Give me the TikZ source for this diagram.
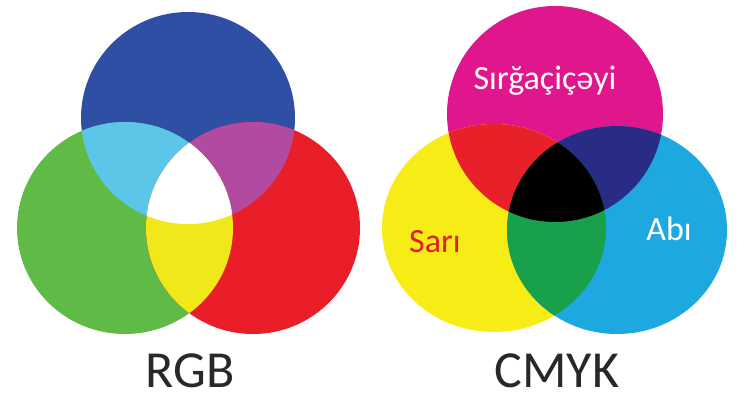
\documentclass[tikz,border=0pt]{standalone}
\usepackage{fontspec}
\setmainfont{Carlito}
\usetikzlibrary{positioning}
\definecolor{rgbblue}{RGB}{47,79,164}
\definecolor{rgbgreen}{RGB}{96,186,70}
\definecolor{rgbred}{RGB}{234,30,40}
\definecolor{rgbcyan}{RGB}{92,198,232}
\definecolor{rgbmagenta}{RGB}{178,74,160}
\definecolor{rgbyellow}{RGB}{240,232,24}
\definecolor{cmykmagenta}{RGB}{224,22,140}
\definecolor{cmykyellow}{RGB}{247,236,22}
\definecolor{cmykcyan}{RGB}{30,168,224}
\definecolor{cmykred}{RGB}{232,32,42}
\definecolor{cmykblue}{RGB}{40,44,132}
\definecolor{cmykgreen}{RGB}{24,160,74}
\definecolor{labelgray}{RGB}{40,40,40}
\definecolor{sarired}{RGB}{226,30,36}
\tikzset{
  title/.style={font=\fontsize{52}{52}\selectfont, text=labelgray},
  colname/.style={font=\fontsize{34}{34}\selectfont, anchor=base}
}
\begin{document}
\begin{tikzpicture}[x=1pt, y=-1pt]
   \useasboundingbox (0,0) rectangle (754,417);
   % RGB
   \def\cB{(188,118) ellipse (107pt and 106pt)}
   \def\cG{(125,228) ellipse (108pt and 106pt)}
   \def\cR{(253,228) ellipse (107pt and 106pt)}
   \fill[rgbblue] \cB;
   \fill[rgbgreen] \cG;
   \fill[rgbred] \cR;
   \begin{scope}
    \clip \cB;
    \fill[rgbcyan] \cG;
    \fill[rgbmagenta] \cR;
   \end{scope}
   \begin{scope}
    \clip \cG;
    \fill[rgbyellow] \cR;
   \end{scope}
   \begin{scope}
    \clip \cB; \clip \cG;
    \fill[white] \cR;
   \end{scope}
   % CMYK
   \def\cM{(555,114) ellipse (108pt and 108pt)}
   \def\cY{(494,228) ellipse (112pt and 104pt)}
   \def\cC{(617,230) ellipse (110pt and 104pt)}
   \fill[cmykmagenta] \cM;
   \fill[cmykyellow] \cY;
   \fill[cmykcyan] \cC;
   \begin{scope}
    \clip \cM;
    \fill[cmykred] \cY;
    \fill[cmykblue] \cC;
   \end{scope}
   \begin{scope}
    \clip \cY;
    \fill[cmykgreen] \cC;
   \end{scope}
   \begin{scope}
    \clip \cM; \clip \cY;
    \fill[black] \cC;
   \end{scope}
   % labels
   \node[title] (rgb) at (190,371) {RGB};
   \node[title] (cmyk) at (557,371) {CMYK};
   \node[colname, text=white] (magenta) at (545,90) {Sırğaçiçəyi};
   \node[colname, text=sarired] (yellow) at (435,252) {Sarı};
   \node[colname, text=white] (cyan) at (669,240) {Abı};
\end{tikzpicture}
\end{document}
